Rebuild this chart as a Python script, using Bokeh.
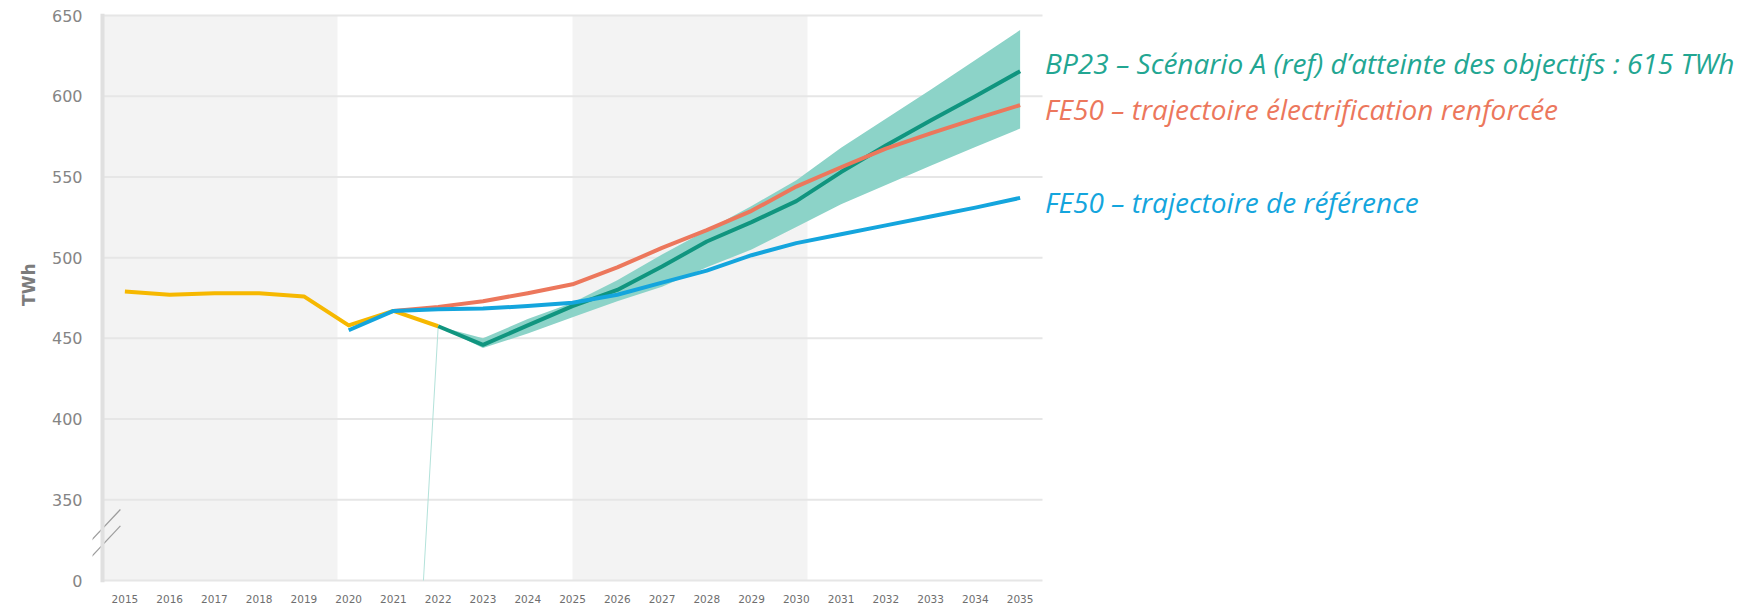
import math
from bokeh.plotting import figure
from bokeh.models import FixedTicker, Label, Range1d, Span, Title
from bokeh.embed import file_html
from bokeh.resources import INLINE

# ---------------- data ----------------
x_tick_years = list(range(2015, 2036))
x_tick_labels = [str(y) for y in x_tick_years]
y_ticks = [300, 350, 400, 450, 500, 550, 600, 650]
y_tick_labels = ["0", "350", "400", "450", "500", "550", "600", "650"]

hist_years = [2015, 2016, 2017, 2018, 2019, 2020, 2021, 2022]
hist_values = [479, 477, 478, 478, 476, 458, 467, 457.5]

ref_years = list(range(2020, 2036))
fe50_ref = [455, 467, 468, 468.5, 470, 472, 477, 484.5, 492, 501.5,
            509, 514.5, 520, 525.5, 531, 537]

renf_years = list(range(2021, 2036))
fe50_renf = [467, 469.5, 473, 478, 483.5, 494, 506, 517, 529, 544,
             556, 567.5, 577, 586, 594.5]

bp_years = list(range(2022, 2036))
bp23 = [457.5, 446, 458, 470, 480, 494.5, 510, 522, 535, 553,
        569.5, 585, 600, 615.5]
bp23_low = [457.5, 444, 453, 463, 473, 482, 494, 505, 519, 533,
            545, 557, 568.5, 580]
bp23_high = [457.5, 450, 462, 472, 486, 502, 517, 532, 548, 568,
             586, 604, 622.5, 641]

connector_x = [2021.67, 2022]
connector_y = [300, 457.5]

shade_starts = [2014.5, 2025.0]
shade_ends = [2019.75, 2030.25]

label_bp = "BP23 \u2013 Sc\u00e9nario A (ref) d\u2019atteinte des objectifs : 615 TWh"
label_renf = "FE50 \u2013 trajectoire \u00e9lectrification renforc\u00e9e"
label_ref = "FE50 \u2013 trajectoire de r\u00e9f\u00e9rence"

# ---------------- colours ----------------
C_HIST = "#f6b800"
C_BP = "#10957f"
C_BP_TXT = "#22a692"
C_BAND = "#8cd3c8"
C_RENF = "#ec775c"
C_REF = "#14a5dd"
C_GRID = "#e6e6e6"

# ---------------- geometry ----------------
W, H = 1750, 607
AX_LEFT = 102          # pixel position of the drawn y axis line
FRAME_LEFT = 92        # frame starts a bit left so the break marks show
FRAME_TOP = 13
FRAME_BOTTOM = 582
X0, X1 = 2014.5, 2035.5
PX_YEAR = 940.0 / (X1 - X0)
PX_UNIT = 565.0 / 350.0

x_start = X0 - (AX_LEFT - FRAME_LEFT) / PX_YEAR
x_end = X0 + (W - AX_LEFT) / PX_YEAR
y_start = 300 - 2 / PX_UNIT
y_end = 650 + 2 / PX_UNIT

p = figure(width=W, height=H, output_backend="svg", toolbar_location=None,
           x_range=Range1d(x_start, x_end), y_range=Range1d(y_start, y_end),
           min_border_left=FRAME_LEFT, min_border_right=0,
           min_border_top=FRAME_TOP, min_border_bottom=H - FRAME_BOTTOM)
p.outline_line_color = None
p.background_fill_color = "white"
p.border_fill_color = "white"
p.xgrid.grid_line_color = None
p.ygrid.grid_line_color = None

# shaded periods
p.quad(left=shade_starts, right=shade_ends, bottom=[y_ticks[0]] * len(shade_starts),
       top=[y_ticks[-1]] * len(shade_starts), fill_color="#f3f3f3", line_color=None)

# horizontal grid lines (limited to the plotting period)
p.segment(x0=[X0] * len(y_ticks), x1=[X1] * len(y_ticks), y0=y_ticks, y1=y_ticks,
          line_color=C_GRID, line_width=2)

# left frame line
p.add_layout(Span(location=X0, dimension="height", line_color="#e0e0e0", line_width=4))

# axes
p.yaxis.ticker = FixedTicker(ticks=y_ticks)
p.yaxis.major_label_overrides = {t: l for t, l in zip(y_ticks, y_tick_labels)}
p.yaxis.major_label_text_font = "DejaVu Sans"
p.yaxis.major_label_text_font_size = "16px"
p.yaxis.major_label_text_color = "#858585"
p.yaxis.major_label_standoff = 10
p.yaxis.major_tick_out = 0
p.yaxis.major_tick_in = 0
p.yaxis.minor_tick_out = 0
p.yaxis.minor_tick_in = 0
p.yaxis.axis_line_color = None

p.xaxis.ticker = FixedTicker(ticks=x_tick_years)
p.xaxis.major_label_overrides = {t: l for t, l in zip(x_tick_years, x_tick_labels)}
p.xaxis.major_label_text_font = "DejaVu Sans"
p.xaxis.major_label_text_font_size = "10.5px"
p.xaxis.major_label_text_color = "#6e6e6e"
p.xaxis.major_label_standoff = 12
p.xaxis.major_tick_out = 0
p.xaxis.major_tick_in = 0
p.xaxis.minor_tick_out = 0
p.xaxis.minor_tick_in = 0
p.xaxis.axis_line_color = None

# y axis title
p.add_layout(Title(text="TWh", align="right", offset=250, text_font="DejaVu Sans",
                   text_font_style="bold", text_font_size="17px",
                   text_color="#7c7c7c", standoff=20), "left")

# band + lines
p.varea(x=bp_years, y1=bp23_low, y2=bp23_high, fill_color=C_BAND, fill_alpha=1)
p.line(connector_x, connector_y, line_color="#b3e2da", line_width=1)
p.line(hist_years, hist_values, line_color=C_HIST, line_width=4, line_join="round")
p.line(bp_years, bp23, line_color=C_BP, line_width=4, line_join="round")
p.line(renf_years, fe50_renf, line_color=C_RENF, line_width=4, line_join="round")
p.line(ref_years, fe50_ref, line_color=C_REF, line_width=4, line_join="round")

# axis break marks
brk_y = [314.8, 325.0]
p.segment(x0=[2014.256] * 2, x1=[2014.9] * 2, y0=brk_y, y1=[b + 19 for b in brk_y],
          line_color="#9c9c9c", line_width=1.2)

# series labels
for txt, yv, yoff, col in [(label_bp, bp23[-1], 8, C_BP_TXT),
                           (label_renf, fe50_renf[-1], -3.8, C_RENF),
                           (label_ref, fe50_ref[-1], -3.6, C_REF)]:
    p.add_layout(Label(x=bp_years[-1], y=yv, x_offset=25, y_offset=yoff, text=txt,
                       text_font="Open Sans", text_font_style="italic",
                       text_font_size="28px", text_color=col,
                       text_baseline="alphabetic", text_align="left"))

open("out.html", "w").write(file_html(p, INLINE))
